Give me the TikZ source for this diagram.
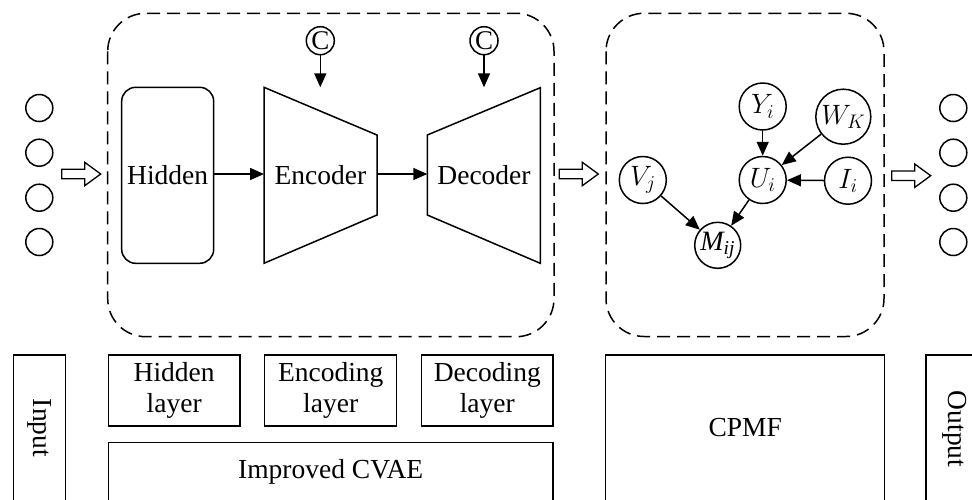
\documentclass[tikz,border=0pt]{standalone}
\usepackage{fix-cm}
\usepackage{fontspec}
\setmainfont{Liberation Serif}
\usetikzlibrary{arrows.meta}
\begin{document}
\begin{tikzpicture}[x=1pt,y=-1pt,line width=1.5pt,
  lbl/.style={font=\fontsize{27.5}{31}\selectfont,inner sep=0pt},
  io/.style={circle,draw,minimum size=27pt,inner sep=0pt},
  var/.style={circle,draw,minimum size=47pt,inner sep=0pt,font=\fontsize{28}{30}\selectfont},
  cond/.style={circle,draw,minimum size=28pt,inner sep=0pt,font=\fontsize{27}{30}\selectfont},
  flow/.style={-{Triangle[length=14pt,width=12pt]}},
  region/.style={draw,dash pattern=on 13pt off 7pt,rounded corners=38pt},
  layerbox/.style={draw,line width=1.4pt},
  hollow/.pic={\draw[line width=1.3pt] (0,-4.7) -- (23,-4.7) -- (23,-11.7) -- (39,0)
     -- (23,11.7) -- (23,4.7) -- (0,4.7) -- cycle;}]
\useasboundingbox (0,0) rectangle (972,499);
\clip (0,0) rectangle (972,499);

% input and output neurons
\foreach \i/\y in {1/108,2/152.7,3/197.7,4/242}{
  \node[io] (in\i) at (39.3,\y) {};
  \node[io] (out\i) at (953.3,\y) {};
}

% dashed regions
\draw[region] (107.7,13.3) rectangle (554,336.7);
\draw[region] (606,13.3) rectangle (884,336.5);

% wide hollow arrows between stages
\pic at (61.7,174) {hollow};
\pic at (559.3,174) {hollow};
\pic at (891.7,175.7) {hollow};

% improved CVAE: hidden layer, encoder, decoder
\node[draw,rounded corners=14pt,minimum width=92pt,minimum height=176pt,inner sep=0pt]
  (hidden) at (167.7,175.3) {};
\node[lbl] (hiddentxt) at (167.7,175) {Hidden};

\draw (264,87.3) -- (377,135) -- (377,215) -- (264,263.3) -- cycle;
\coordinate (encW) at (264,174);
\coordinate (encE) at (377,174);
\coordinate (encN) at (320.3,87.3);
\node[lbl] (enctxt) at (320.5,175) {Encoder};

\draw (427.3,135) -- (540.3,87.7) -- (540.3,263.3) -- (427.3,215) -- cycle;
\coordinate (decW) at (427.3,174);
\coordinate (decN) at (484,87.3);
\node[lbl] (dectxt) at (484,175) {Decoder};

\node[cond] (c1) at (320.3,40.7) {C};
\node[cond] (c2) at (484,40.7) {C};
\draw[flow] (c1) -- (encN);
\draw[flow] (c2) -- (decN);
\draw[flow] (hidden.east |- encW) -- (encW);
\draw[flow] (encE) -- (decW);

% CPMF graphical model
\node[var] (Y) at (762.7,106.5) {$Y_i$};
\node[var,minimum size=55pt] (W) at (843.3,116.7) {$W_K$};
\node[var] (U) at (762.7,180) {$U_i$};
\node[var] (I) at (848,180.7) {$I_i$};
\node[var] (V) at (642.8,180) {$V_j$};
\node[var,minimum size=46pt] (M) at (717.7,245.3) {\textit{M\textsubscript{ij}}};
\draw[flow] (Y) -- (U);
\draw[flow] (W) -- (U);
\draw[flow] (I) -- (U);
\draw[flow] (V) -- (M);
\draw[flow] (U) -- (M);

% stage labels along the bottom
\draw[layerbox] (13.6,510) -- (13.6,355) -- (65.7,355) -- (65.7,510);
\node[lbl,rotate=-90] (inputtxt) at (39.6,428) {Input};

\node[layerbox,minimum width=131.5pt,minimum height=71pt,inner sep=0pt] (hl) at (174.2,390.5) {};
\node[lbl,align=center] at (hl) {Hidden\\layer};
\node[layerbox,minimum width=132pt,minimum height=71pt,inner sep=0pt] (el) at (330.7,390.5) {};
\node[lbl,align=center] at (el) {Encoding\\layer};
\node[layerbox,minimum width=131.5pt,minimum height=71pt,inner sep=0pt] (dl) at (487.3,390.5) {};
\node[lbl,align=center] at (dl) {Decoding\\layer};

\draw[layerbox] (108.5,510) -- (108.5,442.6) -- (553,442.6) -- (553,510);
\node[lbl] (cvaetxt) at (330.7,472) {Improved CVAE};

\draw[layerbox] (605.7,510) -- (605.7,355) -- (884.7,355) -- (884.7,510);
\node[lbl] (cpmftxt) at (745.2,428) {CPMF};

\draw[layerbox] (926,510) -- (926,355) -- (980,355);
\node[lbl,rotate=-90] (outputtxt) at (954.7,429) {Output};
\end{tikzpicture}
\end{document}
